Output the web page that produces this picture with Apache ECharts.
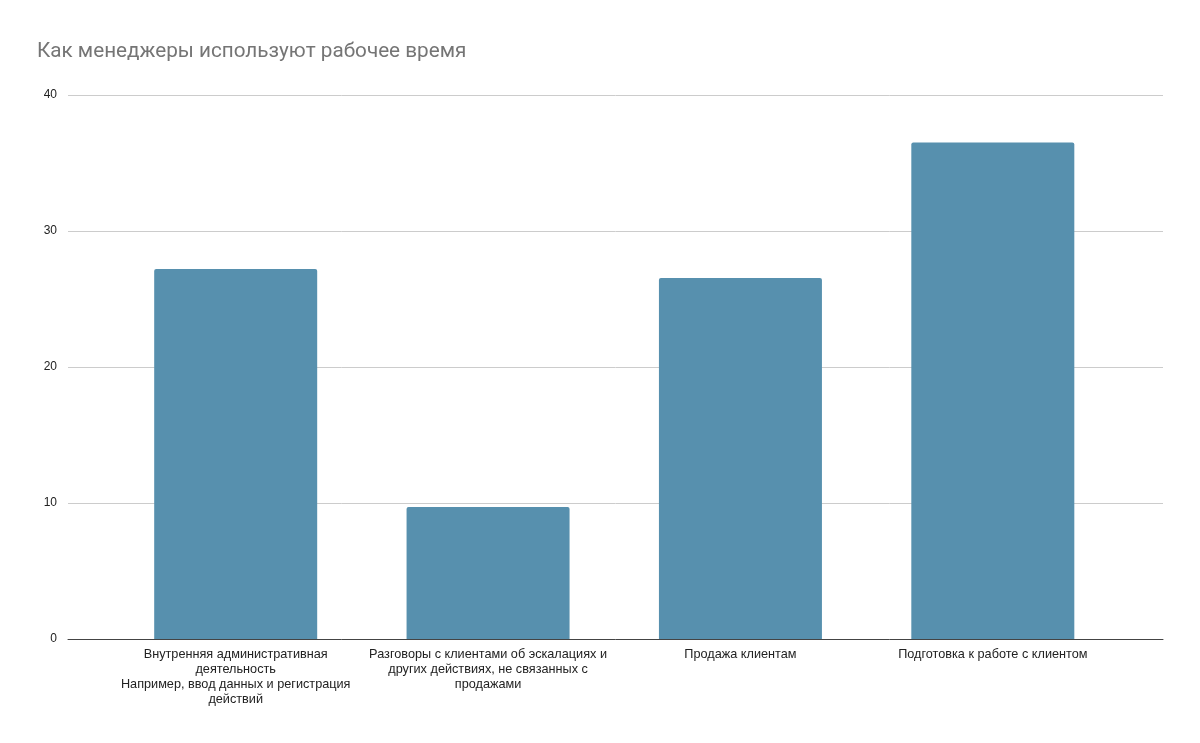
<!DOCTYPE html>
<html><head><meta charset="utf-8">
<script src="https://cdn.jsdelivr.net/npm/echarts@6/dist/echarts.min.js"></script>
<style>html,body{margin:0;padding:0;background:#fff}#c{width:1200px;height:743px}</style>
</head><body><div id="c"></div>
<script>
const title = 'Как менеджеры используют рабочее время';
const categories = [
  'Внутренняя административная\nдеятельность\nНапример, ввод данных и регистрация\nдействий',
  'Разговоры с клиентами об эскалациях и\nдругих действиях, не связанных с\nпродажами',
  'Продажа клиентам',
  'Подготовка к работе с клиентом'
];
const values = [27.2, 9.7, 26.55, 36.5];
const yTicks = [0, 10, 20, 30, 40];

const chart = echarts.init(document.getElementById('c'), null, {renderer: 'canvas'});
const labelFont = '"Liberation Sans", Arial, sans-serif';
chart.setOption({
  animation: false,
  backgroundColor: '#fff',
  title: {
    text: title, left: 32, top: 36,
    textStyle: {fontFamily: 'Roboto, Arial, sans-serif', fontSize: 20.7, fontWeight: 'normal', color: '#757575'}
  },
  grid: [
    {left: 68, right: 37, top: 95, bottom: 104},
    {left: 109.5, right: 81, top: 95, bottom: 104}
  ],
  xAxis: [
    {gridIndex: 0, type: 'value', min: 0, max: 1, show: true,
     axisLine: {show: true, onZero: false, lineStyle: {color: '#444', width: 1}},
     axisTick: {show: false}, axisLabel: {show: false}, splitLine: {show: false}},
    {gridIndex: 1, type: 'category', data: categories,
     axisLine: {show: false}, axisTick: {show: false},
     axisLabel: {interval: 0, margin: 8, fontFamily: labelFont, fontSize: 12.7, lineHeight: 15, color: '#222', align: 'center'}}
  ],
  yAxis: [
    {gridIndex: 0, type: 'value', min: yTicks[0], max: yTicks[yTicks.length-1], interval: 10,
     axisLine: {show: false}, axisTick: {show: false},
     axisLabel: {margin: 11, fontFamily: labelFont, fontSize: 12, color: '#222'},
     splitLine: {lineStyle: {color: '#cccccc', width: 1}}},
    {gridIndex: 1, type: 'value', min: 0, max: 40, show: false, splitLine: {show: false}}
  ],
  series: [{
    type: 'bar', xAxisIndex: 1, yAxisIndex: 1, data: values,
    barWidth: 163,
    itemStyle: {color: '#5790ae', borderRadius: [2, 2, 0, 0]},
    z: 1
  }]
});
</script></body></html>
